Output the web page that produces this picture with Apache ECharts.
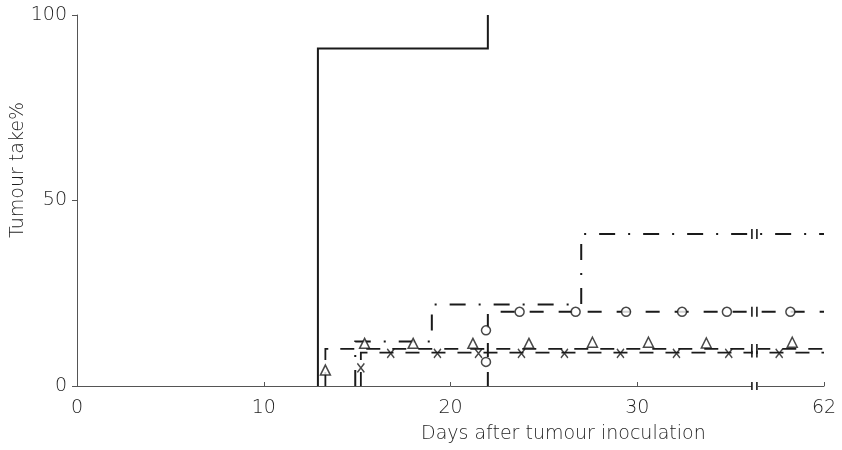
<!DOCTYPE html>
<html>
<head>
<meta charset="utf-8">
<script src="https://cdn.jsdelivr.net/npm/echarts@6/dist/echarts.min.js"></script>
<style>
  html, body { margin: 0; padding: 0; background: #fff; }
  #chart { width: 842px; height: 450px; }
</style>
</head>
<body>
<div id="chart"></div>
<script>
// Axis position 40 is labelled 62 (broken axis).
const xTickLabels = { 0: '0', 10: '10', 20: '20', 30: '30', 40: '62' };
const axisBreakDay = 36.3;

// Step curves: [day, tumour take %]
const controlLine = [[12.9, 0], [12.9, 91], [22, 91], [22, 100]];
const dashDotLine = [[14.9, 0], [14.9, 12], [19, 12], [19, 22], [27, 22], [27, 41], [40, 41]];
const circleLine = [[22, 0], [22, 20], [40, 20]];
const triangleLine = [[13.3, 0], [13.3, 10], [40, 10]];
const crossLine = [[15.2, 0], [15.2, 9], [40, 9]];

// Plot symbols
const circleMarks = [[21.9, 6.5], [21.9, 15], [23.7, 20], [26.7, 20], [29.4, 20], [32.4, 20], [34.8, 20], [38.2, 20]];
const triangleMarks = [[13.3, 4.3], [15.4, 11.5], [18.0, 11.5], [21.2, 11.5], [24.2, 11.5], [27.6, 11.8], [30.6, 11.8], [33.7, 11.6], [38.3, 11.8]];
const crossMarks = [[15.2, 4.9], [16.8, 8.8], [19.3, 8.8], [21.5, 8.8], [23.8, 8.8], [26.1, 8.8], [29.1, 8.8], [32.1, 8.8], [34.9, 8.8], [37.6, 8.8]];

// Levels crossing the axis break
const breakLevels = [0, 9, 10, 20, 41];

const chart = echarts.init(document.getElementById('chart'), null, { renderer: 'canvas' });
const ink = '#1a1a1a';
const textInk = '#1e1e1e';
const font = 'DejaVu Sans';

function stepSeries(data, type, width) {
  return {
    type: 'line', data: data, symbol: 'none', silent: true, z: 3,
    lineStyle: { color: ink, width: width, type: type, cap: 'butt', join: 'miter' }
  };
}
function markSeries(data, symbol, size, fill, z) {
  return {
    type: 'scatter', data: data, symbol: symbol, symbolSize: size, silent: true, z: z,
    itemStyle: { color: fill, borderColor: ink, borderWidth: 1.5 }
  };
}

chart.setOption({
  animation: false,
  grid: { left: 77, right: 18, top: 15, bottom: 64, outerBoundsMode: 'none' },
  xAxis: {
    type: 'value', min: 0, max: 40, interval: 10,
    axisLine: { show: true, lineStyle: { color: '#555', width: 1 } },
    axisTick: { show: true, inside: true, length: 4, lineStyle: { color: '#555' } },
    splitLine: { show: false },
    axisLabel: {
      fontFamily: font, fontSize: 19, fontWeight: 200, color: textInk, margin: 13,
      formatter: v => xTickLabels[v] || ''
    }
  },
  yAxis: {
    type: 'value', min: 0, max: 100, interval: 50,
    axisLine: { show: true, lineStyle: { color: '#555', width: 1 } },
    axisTick: { show: true, length: 5, lineStyle: { color: '#555' } },
    splitLine: { show: false },
    axisLabel: { fontFamily: font, fontSize: 19, fontWeight: 200, color: textInk, margin: 10 }
  },
  graphic: [{
    type: 'text', left: 421, top: 425,
    style: { text: 'Days after tumour inoculation', font: '200 19px "DejaVu Sans"', fill: textInk }
  }, {
    type: 'text', x: 18, y: 170, rotation: Math.PI / 2,
    style: {
      text: 'Tumour take%', font: '200 19px "DejaVu Sans"', fill: textInk,
      align: 'center', verticalAlign: 'middle'
    }
  }],
  series: [
    stepSeries(controlLine, 'solid', 2),
    stepSeries(dashDotLine, [16, 13, 2, 13], 2),
    stepSeries(circleLine, [14, 15], 2),
    stepSeries(triangleLine, [14, 12], 1.8),
    stepSeries(crossLine, [14, 12], 1.8),
    markSeries(circleMarks, 'circle', 9, '#fff', 5),
    markSeries(triangleMarks, 'triangle', 10, '#fff', 5),
    markSeries(crossMarks, 'path://M0,0L10,12M10,0L0,12', [7, 9], 'none', 5),
    {
      // axis-break marks drawn across the axis and each curve
      type: 'custom', silent: true, z: 6,
      data: breakLevels.map(v => [axisBreakDay, v]),
      renderItem: function (params, api) {
        const p = api.coord([api.value(0), api.value(1)]);
        const h = api.value(1) === 0 ? 4 : 5;
        return {
          type: 'group',
          children: [
            { type: 'rect', shape: { x: p[0] - 3, y: p[1] - 2, width: 6, height: 4 }, style: { fill: '#fff' } },
            { type: 'line', shape: { x1: p[0] - 3, y1: p[1] - h, x2: p[0] - 3, y2: p[1] + h }, style: { stroke: ink, lineWidth: 1.6 } },
            { type: 'line', shape: { x1: p[0] + 2, y1: p[1] - h, x2: p[0] + 2, y2: p[1] + h }, style: { stroke: ink, lineWidth: 1.6 } }
          ]
        };
      }
    }
  ]
});
</script>
</body>
</html>
